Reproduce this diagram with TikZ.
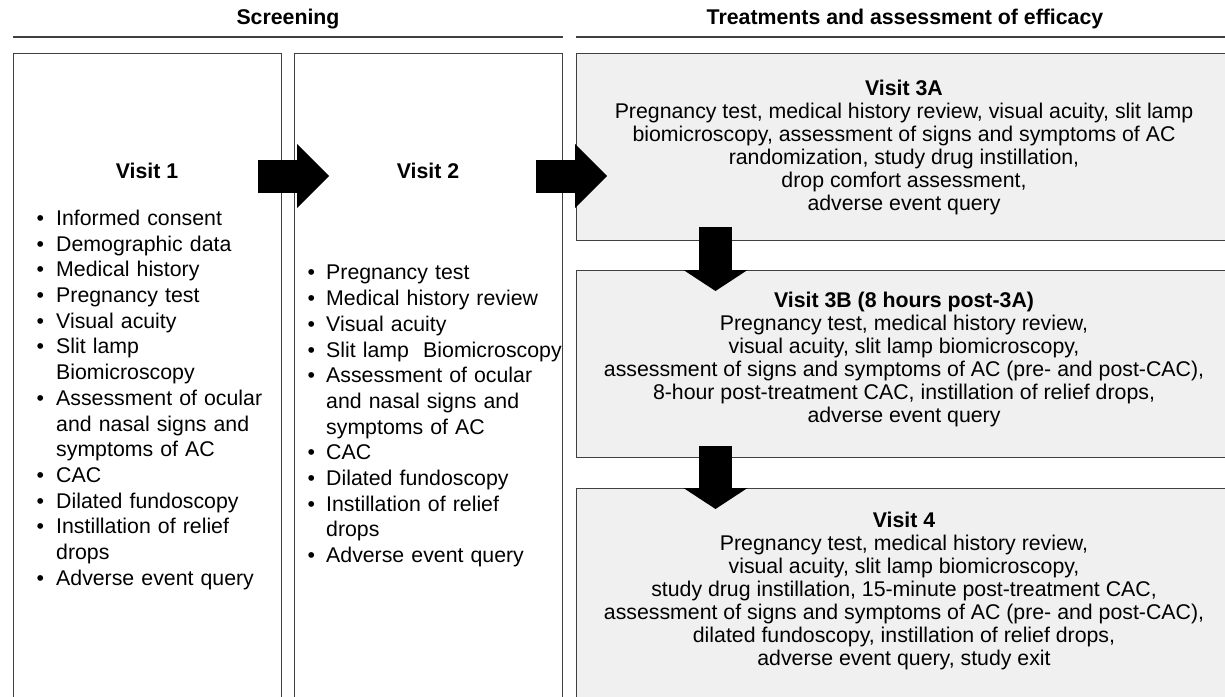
\documentclass[tikz,border=0pt]{standalone}
\usepackage{fontspec}
\setmainfont{Liberation Sans}
\usetikzlibrary{positioning,arrows.meta}

\newenvironment{visitlist}[2]{\begin{list}{\textbullet}{\setlength{\leftmargin}{#1}%
    \setlength{\labelsep}{#2}\setlength{\labelwidth}{\dimexpr#1-#2\relax}%
    \setlength{\itemindent}{0pt}\setlength{\itemsep}{0pt}\setlength{\parsep}{0pt}%
    \setlength{\topsep}{0pt}\setlength{\partopsep}{0pt}}}{\end{list}}

\begin{document}
\begin{tikzpicture}[x=1pt, y=-1pt,
    font=\fontsize{21.3}{25.7}\selectfont,
    screenbox/.style={draw=black!75, line width=1.4pt, fill=white, anchor=north west,
      inner sep=0pt, minimum width=268pt, minimum height=680pt},
    visitbox/.style={draw=black!75, line width=1.4pt, fill=black!6, anchor=north west,
      inner sep=0pt, minimum width=700pt, minimum height=187pt},
    headrule/.style={draw=black!75, line width=1.4pt},
    title/.style={font=\fontsize{21.3}{25.7}\selectfont\bfseries, inner sep=0pt},
    items/.style={anchor=north west, inner sep=0pt, text width=262pt, align=left},
    summary/.style={align=center, inner sep=0pt, font=\fontsize{21.3}{23}\selectfont},
    rarrow/.style={line width=33pt, -{Triangle[length=32pt,width=64pt,line width=0pt]}},
    darrow/.style={line width=33pt, -{Triangle[length=21pt,width=64pt,line width=0pt]}}]
    \useasboundingbox (0,0) rectangle (1225,696);
    \clip (0,0) rectangle (1225,696);
    \fill[white] (0,0) rectangle (1225,696);

    \node[title] (scr) at (288,19) {Screening};
    \node[title] (trt) at (905,19) {Treatments and assessment of efficacy};
    \draw[headrule] (13,37) -- (563,37);
    \draw[headrule] (576,37) -- (1230,37);

    \node[screenbox] (box1) at (13,53) {};
    \node[screenbox] (box2) at (294,53) {};
    \node[visitbox] (v3a) at (576,53) {};
    \node[visitbox] (v3b) at (576,270) {};
    \node[visitbox, minimum height=250pt] (v4) at (576,488) {};

    \node[title] (t1) at (147,171) {Visit 1};
    \node[title] (t2) at (428,171) {Visit 2};

    \node[items] (l1) at (30,199.5) {\begin{visitlist}{26pt}{12pt}
      \item Informed consent
      \item Demographic data
      \item Medical history
      \item Pregnancy test
      \item Visual acuity
      \item Slit lamp\\ Biomicroscopy
      \item Assessment of ocular\\ and nasal signs and\\ symptoms of AC
      \item CAC
      \item Dilated fundoscopy
      \item Instillation of relief\\ drops
      \item Adverse event query
    \end{visitlist}};
    \node[items] (l2) at (300,254) {\begin{visitlist}{26pt}{11pt}
      \item Pregnancy test
      \item Medical history review
      \item Visual acuity
      \item Slit lamp\ \ Biomicroscopy
      \item Assessment of ocular\\ and nasal signs and\\ symptoms of AC
      \item CAC
      \item Dilated fundoscopy
      \item Instillation of relief\\ drops
      \item Adverse event query
    \end{visitlist}};

    \node[summary] (s3a) at (904,147) {\textbf{Visit 3A}\\
      Pregnancy test, medical history review, visual acuity, slit lamp\\
      biomicroscopy, assessment of signs and symptoms of AC\\
      randomization, study drug instillation,\\
      drop comfort assessment,\\
      adverse event query};
    \node[summary] (s3b) at (904,359) {\textbf{Visit 3B (8 hours post-3A)}\\
      Pregnancy test, medical history review,\\
      visual acuity, slit lamp biomicroscopy,\\
      assessment of signs and symptoms of AC (pre- and post-CAC),\\
      8-hour post-treatment CAC, instillation of relief drops,\\
      adverse event query};
    \node[summary] (s4) at (904,591) {\textbf{Visit 4}\\
      Pregnancy test, medical history review,\\
      visual acuity, slit lamp biomicroscopy,\\
      study drug instillation, 15-minute post-treatment CAC,\\
      assessment of signs and symptoms of AC (pre- and post-CAC),\\
      dilated fundoscopy, instillation of relief drops,\\
      adverse event query, study exit};

    \coordinate (a1) at (258,176);
    \coordinate (b1) at (329,176);
    \coordinate (a2) at (536,176);
    \coordinate (b2) at (607,176);
    \coordinate (c1) at (715.5,227);
    \coordinate (d1) at (715.5,291);
    \coordinate (c2) at (715.5,446);
    \coordinate (d2) at (715.5,509);
    \draw[rarrow] (a1) -- (b1);
    \draw[rarrow] (a2) -- (b2);
    \draw[darrow] (c1) -- (d1);
    \draw[darrow] (c2) -- (d2);
\end{tikzpicture}
\end{document}
